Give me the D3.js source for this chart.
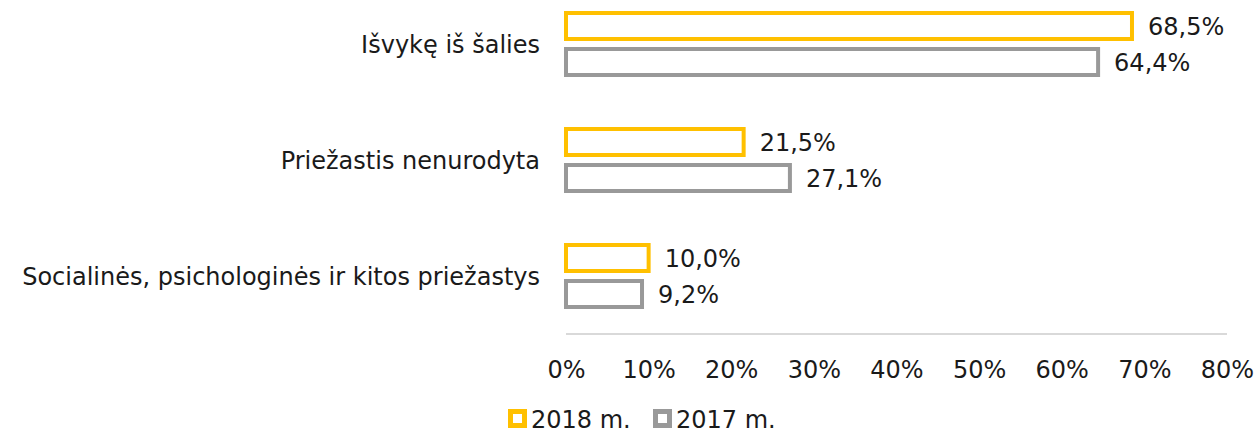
<!DOCTYPE html>
<html><head><meta charset="utf-8">
<script src="https://cdn.jsdelivr.net/npm/d3@7"></script>
<style>body{margin:0;background:#fff}svg{display:block}text{font-family:"DejaVu Sans",sans-serif;fill:#1a1a1a}</style>
</head><body><svg id="c" width="1256" height="436"></svg>
<script>
const categories = ["Išvykę iš šalies","Priežastis nenurodyta","Socialinės, psichologinės ir kitos priežastys"];
const series2018 = [68.5,21.5,10.0];
const series2017 = [64.4,27.1,9.2];
const seriesNames = ["2018 m.","2017 m."];
const tickValues = [0,10,20,30,40,50,60,70,80];

const colors = ["#FFC000","#999999"];
const svg = d3.select("#c");
const x = d3.scaleLinear().domain([0,80]).range([566,1227]);
const y = d3.scaleBand().domain(categories).range([-14,334]).paddingInner(0).paddingOuter(0);
const fmt = v => v.toFixed(1).replace(".", ",") + "%";
const FS = 24;

svg.append("line").attr("x1",x(0)).attr("x2",x(80)).attr("y1",334).attr("y2",334)
  .attr("stroke","#d9d9d9").attr("stroke-width",2);

const series = [series2018, series2017];
const barH = 26, sw = 4, gap = 10;
categories.forEach((c,i)=>{
  const cy = y(c) + y.bandwidth()/2;
  series.forEach((s,k)=>{
    const top = k===0 ? cy - gap/2 - barH : cy + gap/2;
    svg.append("rect").attr("x",x(0)).attr("y",top)
      .attr("width",x(s[i])-x(0)).attr("height",barH)
      .attr("fill","#fff").attr("stroke",colors[k]).attr("stroke-width",sw);
    svg.append("text").attr("x",x(s[i])+16).attr("y",top+barH/2+9)
      .attr("font-size",FS).text(fmt(s[i]));
  });
  svg.append("text").attr("x",540).attr("y",cy+9).attr("text-anchor","end")
    .attr("font-size",FS).text(c);
});

const ax = svg.append("g").attr("transform","translate(0,378)")
  .call(d3.axisBottom(x).tickValues(tickValues).tickFormat(d=>d+"%").tickSize(0).tickPadding(0));
ax.select(".domain").remove();
ax.selectAll("text").attr("font-size",FS).attr("font-family","DejaVu Sans").attr("fill","#1a1a1a").attr("dy","0");

const legX = [508, 653];
seriesNames.forEach((n,k)=>{
  svg.append("rect").attr("x",legX[k]+2.5).attr("y",411.5).attr("width",14).attr("height",14)
    .attr("fill","#fff").attr("stroke",colors[k]).attr("stroke-width",5);
  svg.append("text").attr("x",legX[k]+23).attr("y",428)
    .attr("font-size",FS).text(n);
});
</script></body></html>
